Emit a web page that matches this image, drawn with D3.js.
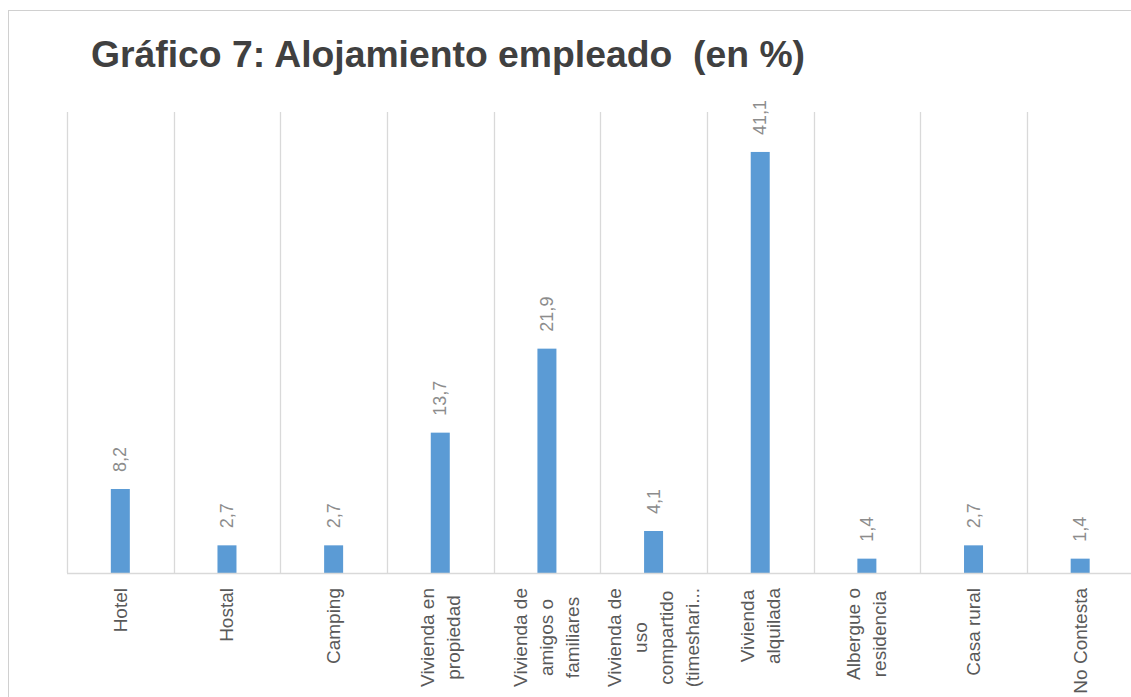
<!DOCTYPE html>
<html><head><meta charset="utf-8">
<script src="https://cdn.jsdelivr.net/npm/d3@7"></script>
<style>body{margin:0;background:#fff;}svg{display:block;}</style>
</head><body>
<svg id="c" width="1131" height="697"></svg>
<script>
const title = "Gráfico 7: Alojamiento empleado  (en %)";
const categories = ["Hotel","Hostal","Camping","Vivienda en propiedad","Vivienda de amigos o familiares","Vivienda de uso compartido (timesharing)","Vivienda alquilada","Albergue o residencia","Casa rural","No Contesta"];
const tickLabels = [["Hotel"],["Hostal"],["Camping"],["Vivienda en","propiedad"],["Vivienda de","amigos o","familiares"],["Vivienda de","uso","compartido","(timeshari..."],["Vivienda","alquilada"],["Albergue o","residencia"],["Casa rural"],["No Contesta"]];
const values = [8.2,2.7,2.7,13.7,21.9,4.1,41.1,1.4,2.7,1.4];
const valueLabels = ["8,2","2,7","2,7","13,7","21,9","4,1","41,1","1,4","2,7","1,4"];
const yMax = 45;

const svg = d3.select("#c");
// outer border
svg.append("rect").attr("x",8.5).attr("y",10.5).attr("width",1140).attr("height",700)
  .attr("fill","none").attr("stroke","#d0d0d0").attr("stroke-width",1);

svg.append("text").attr("x",91).attr("y",67).text(title)
  .style("white-space","pre")
  .attr("font-family","Liberation Sans, Arial, sans-serif").attr("font-weight","bold")
  .attr("font-size",37).attr("fill","#404040")
  .attr("textLength",714).attr("lengthAdjust","spacingAndGlyphs");

const x = d3.scaleBand().domain(categories).range([67,1133.5]).paddingInner(0).paddingOuter(0);
const y = d3.scaleLinear().domain([0,yMax]).range([573,112]);
const barW = 19;

// vertical gridlines at band boundaries
const bounds = categories.map(c=>x(c));
svg.append("g").selectAll("line").data(bounds).join("line")
  .attr("x1",d=>Math.round(d)+0.5).attr("x2",d=>Math.round(d)+0.5)
  .attr("y1",y(yMax)).attr("y2",y(0))
  .attr("stroke","#d9d9d9").attr("stroke-width",1.3);

// bars
svg.append("g").selectAll("rect").data(values).join("rect")
  .attr("x",(d,i)=>x(categories[i])+x.bandwidth()/2-barW/2)
  .attr("width",barW)
  .attr("y",d=>y(d)).attr("height",d=>y(0)-y(d))
  .attr("fill","#5B9BD5");

// baseline
svg.append("line").attr("x1",67).attr("x2",1131).attr("y1",y(0)+0.5).attr("y2",y(0)+0.5)
  .attr("stroke","#d9d9d9").attr("stroke-width",1.5);

// value labels
svg.append("g").selectAll("text").data(values).join("text")
  .attr("transform",(d,i)=>`translate(${x(categories[i])+x.bandwidth()/2},${y(d)-17}) rotate(-90)`)
  .attr("text-anchor","start").attr("dominant-baseline","central")
  .attr("font-family","Liberation Sans, Arial, sans-serif").attr("font-size",18)
  .attr("fill","#8c8c8c")
  .text((d,i)=>valueLabels[i]);

// category labels
const lineGap = 26;
const gl = svg.append("g");
tickLabels.forEach((lines,i)=>{
  const cx = x(categories[i])+x.bandwidth()/2;
  const g = gl.append("g");
  const texts = lines.map((t,j)=>g.append("text")
    .attr("font-family","Liberation Sans, Arial, sans-serif").attr("font-size",19)
    .attr("fill","#595959").attr("text-anchor","middle").attr("dominant-baseline","central")
    .text(t));
  const maxLen = d3.max(texts,t=>t.node().getComputedTextLength());
  const cy = 588 + maxLen/2;
  texts.forEach((t,j)=>{
    const lx = cx + (j-(lines.length-1)/2)*lineGap;
    t.attr("transform",`translate(${lx},${cy}) rotate(-90)`);
  });
});
</script>
</body></html>
